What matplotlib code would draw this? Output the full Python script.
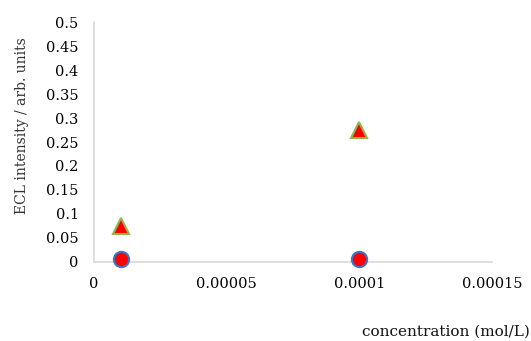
import matplotlib.pyplot as plt

# ECL intensity vs. concentration
conc = [0.00001, 0.0001]
ecl_triangle = [0.075, 0.275]
ecl_circle = [0.005, 0.005]

plt.rcParams['font.family'] = ['DejaVu Serif']

fig = plt.figure(figsize=(5.31, 3.41), dpi=100)
ax = fig.add_axes([0.177, 0.232, 0.750, 0.703])

ax.plot(conc, ecl_circle, 'o', ms=11, mfc='#ff0000', mec='#4472c4', mew=1.5,
        ls='none', clip_on=False, zorder=3)
ax.plot(conc, ecl_triangle, '^', ms=11, mfc='#ff0000', mec='#8cb850', mew=1.5,
        ls='none', clip_on=False, zorder=3)

ax.set_xlim(0, 0.00015)
ax.set_ylim(0, 0.5)
ax.set_xticks([0, 0.00005, 0.0001, 0.00015])
ax.set_xticklabels(['0', '0.00005', '0.0001', '0.00015'])
yt = [i * 0.05 for i in range(11)]
ax.set_yticks(yt)
ax.set_yticklabels(['0', '0.05', '0.1', '0.15', '0.2', '0.25', '0.3', '0.35', '0.4', '0.45', '0.5'])
ax.tick_params(length=0, labelsize=10.5, colors='#000000', pad=11)
for lbl in ax.get_xticklabels() + ax.get_yticklabels():
    lbl.set_fontweight('medium')

for s in ['top', 'right']:
    ax.spines[s].set_visible(False)
for s in ['left', 'bottom']:
    ax.spines[s].set_color('#d9d9d9')
    ax.spines[s].set_linewidth(1.2)

fig.text(0.998, 0.026, 'concentration (mol/L)', ha='right', va='center', fontsize=11, color='#111111')
fig.text(0.041, 0.633, 'ECL intensity / arb. units', rotation=90, ha='center', va='center',
         fontsize=10, color='#333333')

fig.savefig('out.png', dpi=100)
